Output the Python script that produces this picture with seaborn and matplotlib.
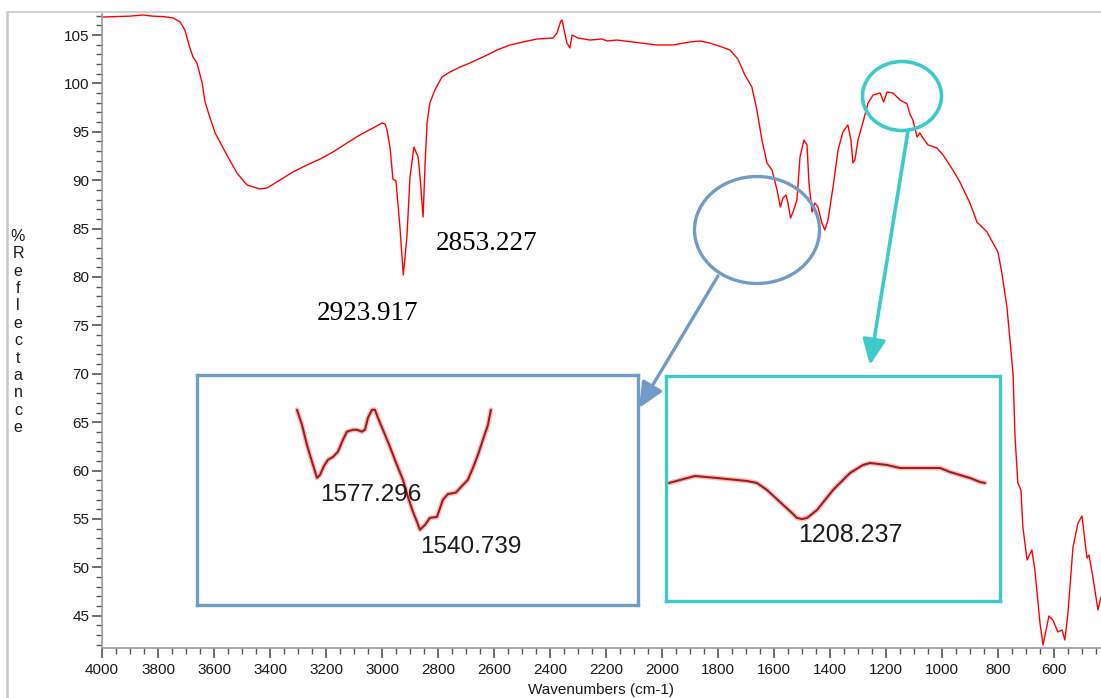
import matplotlib
matplotlib.use("Agg")
import matplotlib.pyplot as plt
import matplotlib.patheffects as pe
import seaborn as sns
from matplotlib import font_manager
from matplotlib.patches import Ellipse, FancyArrowPatch
from matplotlib.lines import Line2D
from matplotlib.transforms import Affine2D
from matplotlib.ticker import MultipleLocator

# ---------------- spectrum data ----------------
wavenumber = [
    3996, 3950, 3900, 3854, 3820, 3780, 3746, 3721, 3704, 3686, 3675, 3661,
    3643, 3632, 3614, 3596, 3579, 3554, 3518, 3482, 3436, 3411, 3364, 3318,
    3268, 3221, 3175, 3125, 3079, 3032, 3000, 2989, 2982, 2971, 2961, 2950,
    2936, 2923.917, 2911, 2900, 2886, 2871, 2864, 2853.227, 2846, 2839, 2829,
    2811, 2786, 2757, 2721, 2686, 2639, 2589, 2543, 2496, 2446, 2389, 2375,
    2362, 2357, 2350, 2340, 2329, 2321, 2300, 2257, 2214, 2196, 2161, 2104,
    2018, 1961, 1900, 1864, 1829, 1786, 1757, 1729, 1704, 1679, 1661, 1643,
    1625, 1607, 1589, 1577.296, 1568, 1557, 1550, 1540.739, 1532, 1518, 1507,
    1493, 1482, 1475, 1464, 1454, 1443, 1429, 1418, 1407, 1389, 1371, 1354,
    1336, 1325, 1318, 1311, 1300, 1282, 1264, 1246, 1221, 1208.237, 1196,
    1175, 1150, 1125, 1114, 1104, 1089, 1079, 1068, 1050, 1018, 996, 961,
    936, 900, 875, 839, 818, 800, 786, 768, 757, 746, 739, 729, 718, 711,
    696, 679, 668, 650, 639, 618, 604, 586, 571, 561, 550, 532, 514, 500,
    482, 475, 461, 443, 432,
]
reflectance = [
    106.86, 106.90, 106.95, 107.07, 106.95, 106.90, 106.76, 106.34, 105.52,
    103.66, 102.73, 102.11, 100.14, 98.08, 96.43, 94.88, 93.95, 92.60, 90.74,
    89.50, 89.09, 89.19, 90.02, 90.85, 91.57, 92.19, 92.91, 93.84, 94.67,
    95.39, 95.91, 95.81, 95.19, 93.33, 90.12, 89.92, 85.17, 80.21, 84.13,
    90.33, 93.43, 92.40, 90.33, 86.20, 91.78, 95.91, 97.98, 99.32, 100.66,
    101.18, 101.69, 102.11, 102.73, 103.45, 103.97, 104.28, 104.59, 104.69,
    105.21, 106.40, 106.55, 105.60, 104.20, 103.66, 105.00, 104.69, 104.48,
    104.59, 104.38, 104.48, 104.28, 103.97, 103.97, 104.28, 104.38, 104.17,
    103.76, 103.45, 102.52, 100.87, 99.63, 97.25, 94.15, 91.78, 91.05, 88.99,
    87.23, 88.16, 88.47, 87.64, 86.09, 86.71, 87.95, 92.40, 94.15, 93.64,
    89.71, 86.71, 87.64, 87.23, 85.58, 84.86, 85.89, 89.30, 93.12, 94.98,
    95.70, 94.15, 91.78, 92.09, 94.15, 96.01, 97.98, 98.80, 99.01, 98.08,
    99.11, 99.01, 98.29, 97.90, 96.80, 96.22, 94.46, 94.88, 94.36, 93.64,
    93.33, 92.60, 91.05, 89.81, 87.64, 85.68, 84.65, 83.51, 82.58, 80.41,
    76.90, 73.49, 69.88, 63.47, 58.72, 58.00, 54.17, 50.76, 51.80, 49.73,
    44.26, 41.98, 44.98, 44.57, 43.33, 43.53, 42.50, 45.29, 52.11, 54.59,
    55.31, 50.97, 51.28, 49.01, 45.60, 46.94,
]

# magnified view of the 1577 / 1540 doublet
doublet_wn = [
    1584.4, 1582.6, 1580.85, 1579.07, 1577.296, 1576.23, 1574.81, 1573.39,
    1571.62, 1569.84, 1568.07, 1566.65, 1564.52, 1563.10, 1561.32, 1560.26,
    1559.19, 1557.77, 1556.71, 1555.64, 1553.87, 1551.38, 1548.90, 1546.77,
    1544.99, 1543.22, 1541.80, 1540.739, 1538.96, 1537.18, 1534.70, 1532.57,
    1530.79, 1527.95, 1525.82, 1523.69, 1521.92, 1520.15, 1518.37, 1516.59,
    1515.53,
]
doublet_r = [
    88.63, 88.31, 87.89, 87.54, 87.20, 87.26, 87.45, 87.58, 87.64, 87.75,
    88.00, 88.17, 88.21, 88.21, 88.17, 88.21, 88.46, 88.63, 88.63, 88.46,
    88.21, 87.85, 87.47, 87.16, 86.80, 86.49, 86.28, 86.11, 86.21, 86.36,
    86.38, 86.74, 86.86, 86.89, 87.03, 87.16, 87.41, 87.68, 88.00, 88.31,
    88.63,
]
doublet_labels = ["1577.296", "1540.739"]

# magnified view of the 1208 band
band_wn = [
    1261.44, 1257.04, 1251.04, 1242.24, 1230.24, 1226.24, 1222.24, 1217.04,
    1212.24, 1210.24, 1208.237, 1206.24, 1202.24, 1195.84, 1189.04, 1183.84,
    1181.04, 1174.24, 1169.04, 1153.04, 1149.04, 1145.04, 1141.04, 1137.04,
    1135.04,
]
band_r = [
    99.00, 99.06, 99.14, 99.10, 99.04, 99.00, 98.86, 98.62, 98.40, 98.30,
    98.28, 98.30, 98.46, 98.86, 99.20, 99.36, 99.40, 99.36, 99.30, 99.30,
    99.22, 99.16, 99.10, 99.02, 99.00,
]
band_labels = ["1208.237"]

peak_labels = ["2923.917", "2853.227"]

# ---------------- styling ----------------
sns.set_theme(style="white")
plt.rcParams["font.family"] = ["Liberation Sans", "DejaVu Sans"]

available = {f.name for f in font_manager.fontManager.ttflist}
narrow = "Liberation Sans Narrow" if "Liberation Sans Narrow" in available else "Liberation Sans"
narrow_size = 21 if narrow == "Liberation Sans Narrow" else 17.5

W, H = 1101, 698
fig = plt.figure(figsize=(W / 100, H / 100), dpi=100)
fig.patch.set_facecolor("white")

# pixel coordinates measured from the top-left corner of the canvas
PX = Affine2D().scale(1 / W, -1 / H).translate(0, 1) + fig.transFigure


def frac_box(x0, y0, x1, y1):
    return [x0 / W, 1 - y1 / H, (x1 - x0) / W, (y1 - y0) / H]


ax = fig.add_axes(frac_box(102, 14, 1101, 648))
sns.lineplot(x=wavenumber, y=reflectance, ax=ax, color="#ff0000",
             linewidth=1.0, sort=False, estimator=None)

ax.set_xlim(4000, 432)
ax.set_ylim(41.67, 107.17)
ax.xaxis.set_minor_locator(MultipleLocator(50))
ax.yaxis.set_minor_locator(MultipleLocator(1))
ax.set_yticks(range(45, 106, 5))
ax.set_xticks(range(4000, 599, -200))

for s in ("top", "right"):
    ax.spines[s].set_visible(False)
for s in ("left", "bottom"):
    ax.spines[s].set_color("#9a9a9a")
    ax.spines[s].set_linewidth(1.2)

ax.tick_params(axis="both", which="major", direction="out", length=7,
               width=1.2, color="#555555", labelsize=11, labelcolor="#1a1a1a",
               left=True, bottom=True, pad=2)
ax.tick_params(axis="both", which="minor", direction="out", length=4,
               width=1.0, color="#555555", left=True, bottom=True)
ax.tick_params(axis="x", which="major", pad=4)
ax.set_xlabel("Wavenumbers (cm-1)", fontsize=11, color="#1a1a1a", labelpad=4)
ax.set_ylabel("")
ax.grid(False)

# vertical stacked axis title
fig.text(18, 332, "\n".join("%Reflectance"), transform=PX, ha="center",
         va="center", fontsize=11.5, color="#1a1a1a", linespacing=1.2)

# peak position labels on the C-H stretches
serif = ["Liberation Serif", "DejaVu Serif"]
ax.text(3232, 75.56, peak_labels[0], family=serif,
        fontsize=19.5, color="black", ha="left", va="baseline")
ax.text(2807, 82.79, peak_labels[1], family=serif,
        fontsize=19.5, color="black", ha="left", va="baseline")

# outer frame of the plot window
fig.add_artist(Line2D([7, 7], [12, 700], transform=PX, color="#c8c8c8", lw=1.8))
fig.add_artist(Line2D([7, 1105], [12, 12], transform=PX, color="#d0d0d0", lw=1.4))

BLUE = "#729bc6"
CYAN = "#3ccaca"
HEAD = "-|>,head_length=0.7,head_width=0.32"

# highlight circles and pointers
fig.add_artist(Ellipse((757, 230), 125, 107, transform=PX, fill=False,
                       edgecolor=BLUE, lw=2.4))
fig.add_artist(Ellipse((902, 96), 79, 69, transform=PX, fill=False,
                       edgecolor=CYAN, lw=2.6))
fig.add_artist(FancyArrowPatch((718, 276), (639, 408), transform=PX,
                               arrowstyle=HEAD, mutation_scale=22,
                               color=BLUE, lw=2.4, shrinkA=0, shrinkB=0))
fig.add_artist(FancyArrowPatch((908, 131), (870, 365), transform=PX,
                               arrowstyle=HEAD, mutation_scale=22,
                               color=CYAN, lw=2.6, shrinkA=0, shrinkB=0))

halo = [pe.Stroke(linewidth=3.6, foreground="#f3c4c4"), pe.Normal()]


def magnified(box, color, xs, ys, xlim, ylim):
    iax = fig.add_axes(frac_box(*box))
    iax.set_facecolor("white")
    sns.lineplot(x=xs, y=ys, ax=iax, color="#a8191c", linewidth=1.5,
                 sort=False, estimator=None)
    for ln in iax.lines:
        ln.set_path_effects(halo)
    iax.set_xlim(*xlim)
    iax.set_ylim(*ylim)
    iax.set_xticks([])
    iax.set_yticks([])
    iax.set_xlabel("")
    iax.set_ylabel("")
    for s in iax.spines.values():
        s.set_visible(True)
        s.set_color(color)
        s.set_linewidth(2.4)
    return iax


blue_ax = magnified((197, 375, 638, 605), BLUE, doublet_wn, doublet_r,
                    (1619.9, 1463.3), (84.53, 89.36))
blue_ax.text(1576.23, 86.84, doublet_labels[0], family=[narrow, "DejaVu Sans"],
             fontsize=narrow_size, color="#1c1c1c", ha="left", va="center")
blue_ax.text(1540.739, 85.75, doublet_labels[1], family=[narrow, "DejaVu Sans"],
             fontsize=narrow_size, color="#1c1c1c", ha="left", va="center")

cyan_ax = magnified((666, 376, 1000, 601), CYAN, band_wn, band_r,
                    (1262.64, 1129.04), (96.64, 101.14))
cyan_ax.text(1209.84, 97.96, band_labels[0], family=[narrow, "DejaVu Sans"],
             fontsize=narrow_size + 0.5, color="#1c1c1c", ha="left", va="center")

fig.savefig("out.png", dpi=100)
